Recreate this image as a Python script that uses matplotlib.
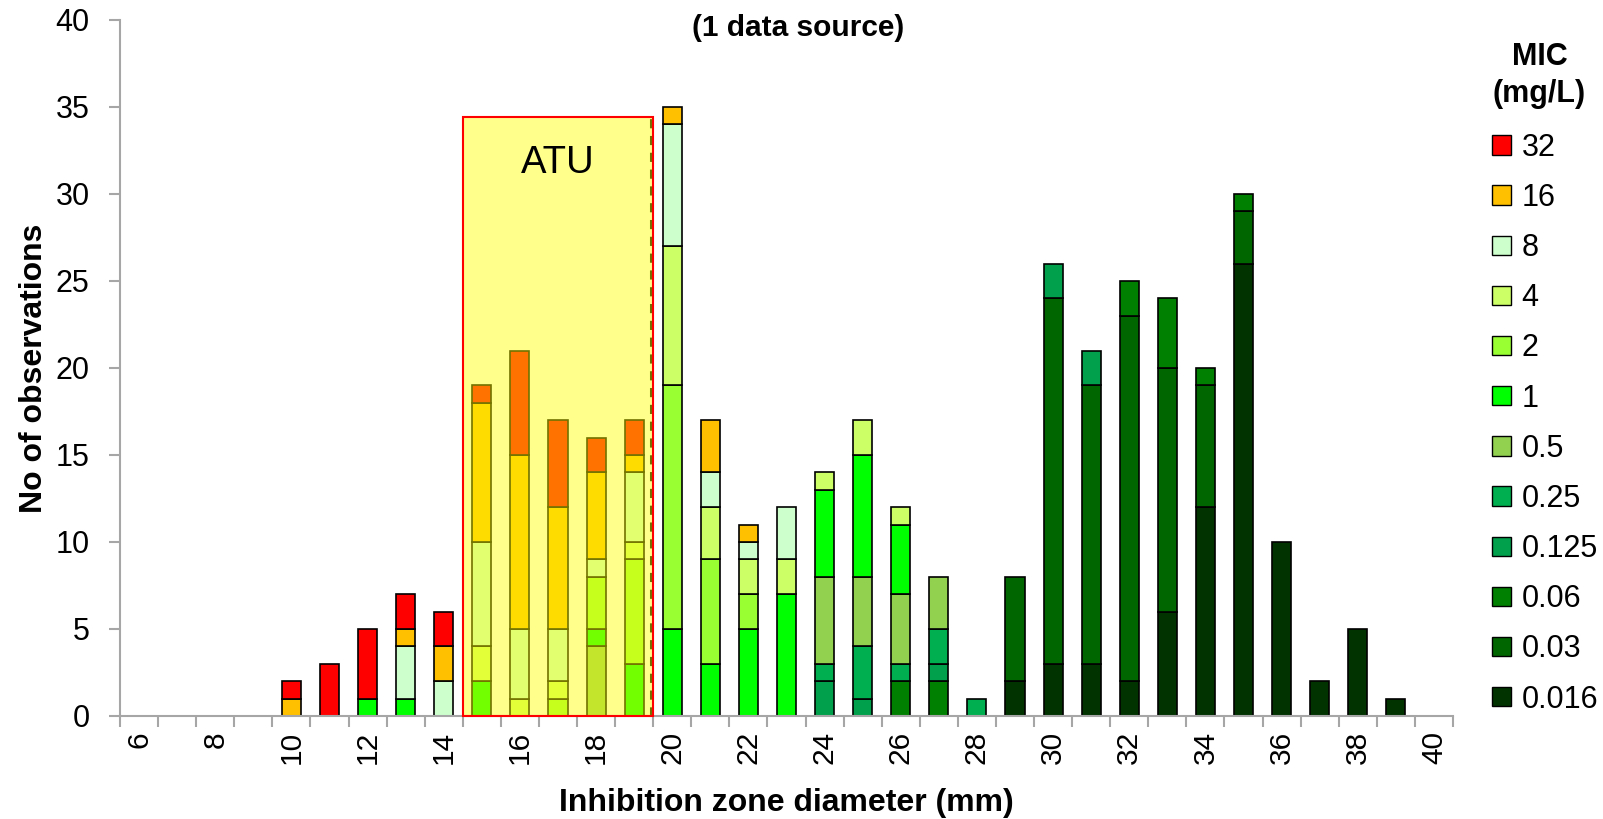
import numpy as np
import matplotlib.pyplot as plt
from matplotlib.patches import Rectangle, Patch

plt.rcParams['font.family'] = ['Liberation Sans', 'DejaVu Sans']

# Diámetro de la zona de inhibición (mm), una barra por valor
zona = list(range(6, 41))

# Conteos por MIC (mg/L); cada fila de 5 = zonas 6-10, 11-15, ..., 36-40
n_0016 = [0, 0, 0, 0, 0,  0, 0, 0, 0, 0,  0, 0, 0, 0, 0,  0, 0, 0, 0, 0,
          0, 0, 0, 2, 3,  3, 2, 6, 12, 26,  10, 2, 5, 1, 0]
n_003 = [0, 0, 0, 0, 0,  0, 0, 0, 0, 0,  0, 0, 0, 0, 0,  0, 0, 0, 0, 0,
         0, 0, 0, 6, 21,  16, 21, 14, 7, 3,  0, 0, 0, 0, 0]
n_006 = [0, 0, 0, 0, 0,  0, 0, 0, 0, 0,  0, 0, 0, 0, 0,  0, 0, 0, 0, 0,
         2, 2, 0, 0, 0,  0, 2, 4, 1, 1,  0, 0, 0, 0, 0]
n_0125 = [0, 0, 0, 0, 0,  0, 0, 0, 0, 0,  0, 0, 0, 0, 0,  0, 0, 0, 2, 1,
          0, 1, 0, 0, 2,  2, 0, 0, 0, 0,  0, 0, 0, 0, 0]
n_025 = [0, 0, 0, 0, 0,  0, 0, 0, 0, 0,  0, 0, 0, 0, 0,  0, 0, 0, 1, 3,
         1, 2, 1, 0, 0,  0, 0, 0, 0, 0,  0, 0, 0, 0, 0]
n_05 = [0, 0, 0, 0, 0,  0, 0, 0, 0, 0,  0, 0, 4, 0, 0,  0, 0, 0, 5, 4,
        4, 3, 0, 0, 0,  0, 0, 0, 0, 0,  0, 0, 0, 0, 0]
n_1 = [0, 0, 0, 0, 0,  0, 1, 1, 0, 2,  0, 0, 1, 3, 5,  3, 5, 7, 5, 7,
       4, 0, 0, 0, 0,  0, 0, 0, 0, 0,  0, 0, 0, 0, 0]
n_2 = [0, 0, 0, 0, 0,  0, 0, 0, 0, 0,  0, 1, 3, 6, 14,  6, 2, 0, 0, 0,
       0, 0, 0, 0, 0,  0, 0, 0, 0, 0,  0, 0, 0, 0, 0]
n_4 = [0, 0, 0, 0, 0,  0, 0, 0, 0, 2,  1, 1, 0, 1, 8,  3, 2, 2, 1, 2,
       1, 0, 0, 0, 0,  0, 0, 0, 0, 0,  0, 0, 0, 0, 0]
n_8 = [0, 0, 0, 0, 0,  0, 0, 3, 2, 6,  4, 3, 1, 4, 7,  2, 1, 3, 0, 0,
       0, 0, 0, 0, 0,  0, 0, 0, 0, 0,  0, 0, 0, 0, 0]
n_16 = [0, 0, 0, 0, 1,  0, 0, 1, 2, 8,  10, 7, 5, 1, 1,  3, 1, 0, 0, 0,
        0, 0, 0, 0, 0,  0, 0, 0, 0, 0,  0, 0, 0, 0, 0]
n_32 = [0, 0, 0, 0, 1,  3, 4, 2, 2, 1,  6, 5, 2, 2, 0,  0, 0, 0, 0, 0,
        0, 0, 0, 0, 0,  0, 0, 0, 0, 0,  0, 0, 0, 0, 0]

# Series de abajo hacia arriba
mic = ['0.016', '0.03', '0.06', '0.125', '0.25', '0.5', '1', '2', '4', '8', '16', '32']
series = [n_0016, n_003, n_006, n_0125, n_025, n_05, n_1, n_2, n_4, n_8, n_16, n_32]
colores = ['#003300', '#006600', '#008000', '#00A04C', '#00B050', '#92D050',
           '#00FF00', '#99FF33', '#CCFF66', '#CCFFCC', '#FFC000', '#FF0000']

# Zona ATU
atu_x = (14.5, 19.5)
atu_top = 34.4

fig = plt.figure(figsize=(16.03, 8.19), dpi=100)
ax = fig.add_axes([0.0749, 0.1258, 0.8315, 0.8498])

x = np.array(zona)
base = np.zeros(len(zona))
for vals, c in zip(series, colores):
    v = np.array(vals, dtype=float)
    m = v > 0
    ax.bar(x[m], v[m], 0.5, bottom=base[m], color=c, edgecolor='black',
           linewidth=1.2, zorder=2)
    base += v

# Línea discontinua del punto de corte y recuadro amarillo semitransparente
ax.plot([atu_x[1] - 0.05, atu_x[1] - 0.05], [0, atu_top], color='black',
        linestyle=(0, (3, 2.5)), linewidth=2.2, zorder=2.5)
ax.add_patch(Rectangle((atu_x[0], 0), atu_x[1] - atu_x[0], atu_top,
                       facecolor=(1, 1, 0, 0.45), edgecolor='#FF0000',
                       linewidth=1.5, zorder=3, clip_on=False))
ax.text(sum(atu_x) / 2, 31.8, 'ATU', ha='center', va='center', fontsize=27.5, zorder=4)

ax.set_xlim(5.5, 40.5)
ax.set_ylim(0, 40)

ax.set_xticks(np.arange(6, 41, 2))
ax.set_xticklabels([str(t) for t in range(6, 41, 2)], rotation=90, fontsize=21.5)
ax.set_xticks(np.arange(5.5, 41, 1), minor=True)
ax.tick_params(axis='x', which='major', length=0, pad=11)
ax.tick_params(axis='x', which='minor', length=8, width=1.5, color='#A6A6A6')

ax.set_yticks(np.arange(0, 41, 5))
ax.tick_params(axis='y', labelsize=22, length=8, width=1.5, color='#A6A6A6', pad=14)

for s in ['top', 'right']:
    ax.spines[s].set_visible(False)
for s in ['left', 'bottom']:
    ax.spines[s].set_color('#A6A6A6')
    ax.spines[s].set_linewidth(1.5)

ax.set_xlabel('Inhibition zone diameter (mm)', fontsize=23, fontweight='bold')
ax.xaxis.set_label_coords(0.5, -0.104)
ax.set_ylabel('No of observations', fontsize=23, fontweight='bold')
ax.yaxis.set_label_coords(-0.053, 0.5)

fig.text(0.498, 0.966, '(1 data source)', ha='center', va='center', fontsize=21.5,
         fontweight='bold')

# Leyenda con el MIC más alto arriba
fig.text(0.9604, 0.9078, 'MIC\n(mg/L)', ha='center', va='center', fontsize=22,
         fontweight='bold', linespacing=1.27)
handles = [Patch(facecolor=c, edgecolor='black', linewidth=1.0) for c in colores][::-1]
fig.legend(handles, mic[::-1], loc='upper left', bbox_to_anchor=(0.931, 0.838),
           frameon=False, fontsize=22,
           handlelength=0.6, handleheight=0.6, handletextpad=0.35,
           labelspacing=0.66, borderpad=0, borderaxespad=0)

fig.savefig('out.png', dpi=100)
